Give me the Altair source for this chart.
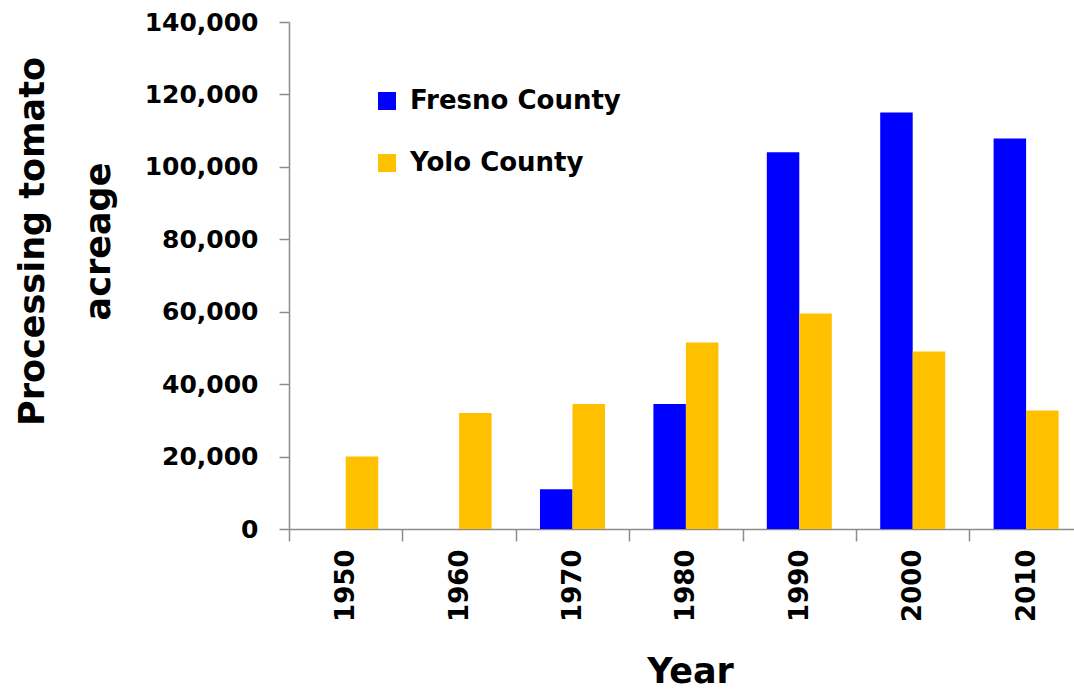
import altair as alt
import pandas as pd

# Processing tomato acreage by decade
years = ["1950", "1960", "1970", "1980", "1990", "2000", "2010"]
counties = ["Fresno County", "Yolo County"]
fresno_acres = [None, None, 11000, 34500, 104000, 115000, 107800]
yolo_acres = [20000, 32000, 34500, 51500, 59500, 49000, 32700]
colors = ["#0000FF", "#FFC000"]
y_ticks = [0, 20000, 40000, 60000, 80000, 100000, 120000, 140000]

rows = []
for yr, f, y in zip(years, fresno_acres, yolo_acres):
    if f is not None:
        rows.append({"year": yr, "county": counties[0], "acres": f})
    if y is not None:
        rows.append({"year": yr, "county": counties[1], "acres": y})
df = pd.DataFrame(rows)

FONT = "DejaVu Sans"
STEP = 113.4
HALF = STEP / 2

chart = (
    alt.Chart(df)
    .mark_bar()
    .encode(
        x=alt.X(
            "year:N",
            sort=years,
            scale=alt.Scale(domain=years, range=[0, STEP * len(years)],
                            paddingInner=0, paddingOuter=0),
            axis=alt.Axis(
                title="Year",
                labelAngle=270,
                labelFont=FONT, labelFontSize=26, labelFontWeight="bold",
                labelColor="black", labelPadding=8,
                tickOffset=-HALF, labelOffset=HALF,
                tickSize=12, tickColor="#8c8c8c", tickWidth=1.5,
                domainColor="#8c8c8c", domainWidth=1.5,
                titleFont=FONT, titleFontSize=35, titleFontWeight="bold",
                titleColor="black", titleX=401, titleY=153,
                titleAlign="center", titleBaseline="alphabetic",
                grid=False,
            ),
        ),
        xOffset=alt.XOffset(
            "county:N",
            scale=alt.Scale(domain=counties, paddingInner=0, paddingOuter=0.745),
        ),
        y=alt.Y(
            "acres:Q",
            scale=alt.Scale(domain=[0, 140000], nice=False),
            axis=alt.Axis(
                title=["Processing tomato", "acreage"],
                values=y_ticks, format=",d",
                labelFont=FONT, labelFontSize=25, labelFontWeight="bold",
                labelColor="black", labelPadding=21,
                tickSize=10, tickColor="#8c8c8c", tickWidth=1.5,
                domainColor="#8c8c8c", domainWidth=1.5,
                titleFont=FONT, titleFontSize=35, titleFontWeight="bold",
                titleColor="black", titleAngle=270,
                titleX=-257, titleY=219,
                titleAlign="center", titleBaseline="middle",
                titleLineHeight=66,
                grid=False,
            ),
        ),
        color=alt.Color(
            "county:N",
            scale=alt.Scale(domain=counties, range=colors),
            legend=alt.Legend(
                title=None,
                orient="none", legendX=85, legendY=66,
                direction="vertical",
                symbolType="square", symbolSize=324, symbolStrokeWidth=0,
                labelFont=FONT, labelFontSize=26, labelFontWeight="bold",
                labelColor="black", labelOffset=10, labelLimit=400,
                rowPadding=36, padding=0,
            ),
        ),
    )
    .properties(
        width=785,
        height=507,
        background="white",
        autosize=alt.AutoSizeParams(type="none"),
        padding={"left": 289, "top": 22, "right": 0, "bottom": 161},
    )
    .configure_view(strokeWidth=0, stroke="transparent")
)

chart.save("out.html", embed_options={"renderer": "svg", "actions": False})
